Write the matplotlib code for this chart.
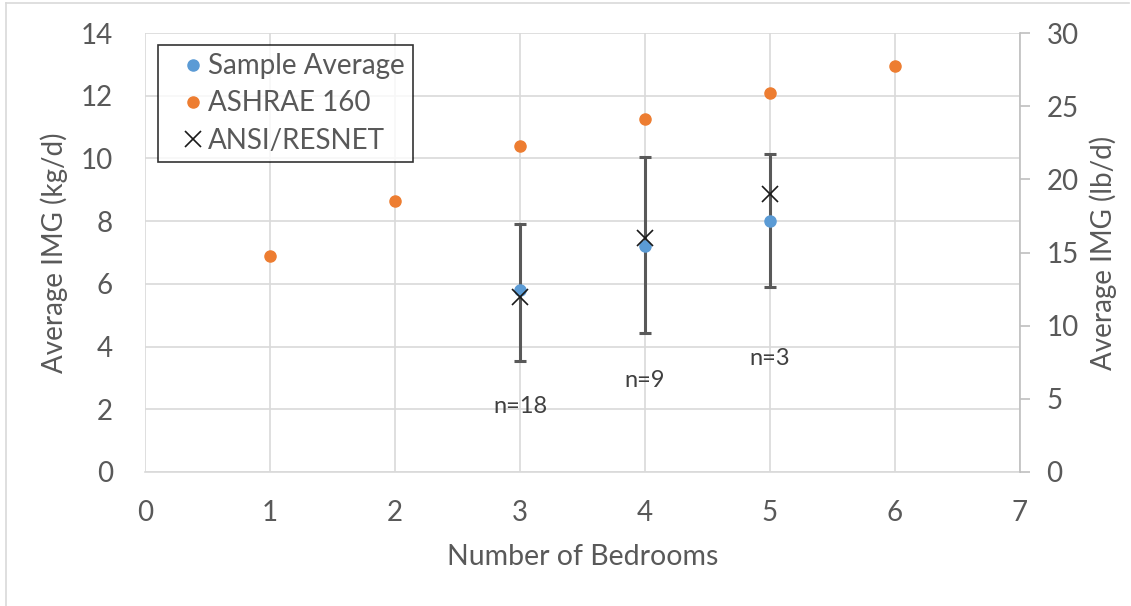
import matplotlib
matplotlib.use("Agg")
from matplotlib import pyplot as plt
from matplotlib.lines import Line2D

plt.rcParams["font.family"] = ["Lato", "DejaVu Sans"]

# data
sample_bedrooms = [3, 4, 5]
sample_avg = [5.79, 7.22, 8.0]
sample_low = [3.53, 4.43, 5.91]
sample_high = [7.9, 10.03, 10.13]

ashrae_bedrooms = [1, 2, 3, 4, 5, 6]
ashrae_160 = [6.9, 8.65, 10.4, 11.25, 12.1, 12.95]

resnet_bedrooms = [3, 4, 5]
ansi_resnet = [5.58, 7.47, 8.88]

n_labels = ["n=18", "n=9", "n=3"]
n_label_y = [2.08, 2.93, 3.63]

grey_text = "#595959"
grid_col = "#d9d9d9"
W, H = 1131, 606

fig = plt.figure(figsize=(W / 100, H / 100), dpi=100)
ax = fig.add_axes([145 / W, 1 - 472 / H, 875 / W, 439 / H])

# outer chart border (only left and top edges show)
fig.lines.append(Line2D([5.5 / W, 5.5 / W], [0, 1 - 2.5 / H], transform=fig.transFigure,
                        color="#d9d9d9", linewidth=1.2))
fig.lines.append(Line2D([5.5 / W, 1129 / W], [1 - 2.5 / H, 1 - 2.5 / H],
                        transform=fig.transFigure, color="#d9d9d9", linewidth=1.2))

lower = [m - lo for m, lo in zip(sample_avg, sample_low)]
upper = [hi - m for m, hi in zip(sample_avg, sample_high)]
ax.errorbar(sample_bedrooms, sample_avg, yerr=[lower, upper], fmt="none",
            ecolor="#595959", elinewidth=2.2, capsize=4, capthick=2.2, zorder=3)
ax.plot(sample_bedrooms, sample_avg, "o", color="#5B9BD5", markersize=8,
        linestyle="none", label="Sample Average", zorder=4)
ax.plot(ashrae_bedrooms, ashrae_160, "o", color="#ED7D31", markersize=8,
        linestyle="none", label="ASHRAE 160", zorder=4)
ax.plot(resnet_bedrooms, ansi_resnet, "x", color="#1a1a1a", markersize=11,
        markeredgewidth=1.2, linestyle="none", label="ANSI/RESNET", zorder=5)

for xb, yb, lab in zip(sample_bedrooms, n_label_y, n_labels):
    ax.text(xb, yb, lab, ha="center", va="center", fontsize=17, color="#404040")

ax.set_xlim(0, 7)
ax.set_ylim(0, 14)
ax.set_xticks(range(0, 8))
ax.set_yticks(range(0, 15, 2))
ax.grid(True, color=grid_col, linewidth=1.2)
ax.set_axisbelow(True)
for side in ["top", "right", "left"]:
    ax.spines[side].set_visible(False)
ax.spines["bottom"].set_color(grid_col)
ax.spines["bottom"].set_linewidth(1.2)
ax.tick_params(axis="both", length=0, labelsize=20, labelcolor=grey_text)
ax.tick_params(axis="y", pad=23)
ax.tick_params(axis="x", pad=20)
ax.set_xlabel("Number of Bedrooms", fontsize=20.5, color=grey_text, labelpad=13)
ax.set_ylabel("Average IMG (kg/d)", fontsize=20, color=grey_text, labelpad=9)

ax2 = ax.twinx()
ax2.set_ylim(0, 30)
ax2.set_yticks(range(0, 31, 5))
for side in ["top", "left", "bottom"]:
    ax2.spines[side].set_visible(False)
ax2.spines["right"].set_color("#bfbfbf")
ax2.spines["right"].set_linewidth(1.2)
ax2.tick_params(axis="y", length=7, width=1.2, color="#bfbfbf", labelsize=20,
                labelcolor=grey_text, pad=12)
ax2.set_ylabel("Average IMG (lb/d)", fontsize=20, color=grey_text, labelpad=8)

leg = ax.legend(loc="upper left", bbox_to_anchor=(13 / 875, 1 - 12 / 439),
                fontsize=20, frameon=True, fancybox=False, handletextpad=-0.4,
                handlelength=1.9, borderpad=0.3, labelspacing=0.4,
                borderaxespad=0)
leg.get_frame().set_edgecolor("black")
leg.get_frame().set_linewidth(1.2)
for t in leg.get_texts():
    t.set_color(grey_text)

fig.savefig("out.png", dpi=100)
